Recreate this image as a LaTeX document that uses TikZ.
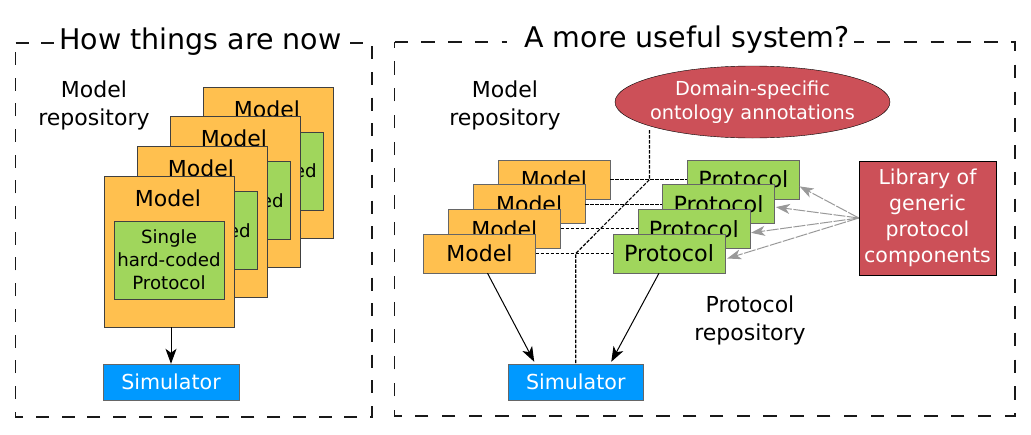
\documentclass[tikz,border=0pt]{standalone}
\usepackage{fontspec}
\setmainfont{DejaVu Sans}
\usetikzlibrary{shapes,arrows.meta,positioning}

\definecolor{modelorange}{HTML}{FFC04F}
\definecolor{protogreen}{HTML}{A0D65C}
\definecolor{libred}{HTML}{CC5058}
\definecolor{simblue}{HTML}{0099FF}

\tikzset{
    frame/.style={draw=black!90, line width=1.2pt},
    mask/.style={fill=white, inner sep=0pt, minimum height=6pt},
    title/.style={inner sep=0pt, font=\fontsize{28.5}{34}\selectfont},
    label/.style={align=center, font=\fontsize{22}{28}\selectfont},
    modelbig/.style={draw=black!75, line width=0.8pt, fill=modelorange, minimum width=130pt, minimum height=151pt, inner sep=0pt},
    inner/.style={draw=black!75, line width=0.8pt, fill=protogreen, minimum width=110pt, minimum height=78pt, inner sep=0pt},
    innertext/.style={align=center, inner sep=0pt, font=\fontsize{18.2}{23}\selectfont},
    model/.style={draw=black!60, fill=modelorange, minimum width=112pt, minimum height=39pt, inner sep=0pt, font=\fontsize{22}{28}\selectfont},
    protocol/.style={draw=black!60, fill=protogreen, minimum width=112pt, minimum height=39pt, inner sep=0pt, font=\fontsize{22.3}{28}\selectfont},
    sim/.style={draw=black!60, fill=simblue, text=white, minimum width=135.5pt, minimum height=36pt, inner sep=0pt, font=\fontsize{20.6}{26}\selectfont},
    link/.style={draw=black, line width=1.1pt, dash pattern=on 3.5pt off 1.5pt},
    feed/.style={draw=black!40, line width=1pt, dash pattern=on 12pt off 1.5pt, -{Stealth[length=14pt,width=10pt,inset=4pt]}},
    flow/.style={draw=black, line width=1pt, -{Stealth[length=15pt,width=11pt,inset=4pt]}}
}

\begin{document}
\begin{tikzpicture}[x=1pt, y=-1pt]
    \useasboundingbox (0,0) rectangle (1031,434);

    % Frames
    \draw[frame, dash pattern=on 13pt off 12.7pt] (15.5,43) -- (372,43) -- (372,417) -- (15.5,417) -- cycle;
    \draw[frame, dash pattern=on 13.4pt off 13.4pt] (394.5,42) -- (1015,42) -- (1015,416) -- (394.5,416) -- cycle;
    \node[mask, minimum width=295.7pt] at (202.15,43) (nowmask) {};
    \node[mask, minimum width=347.3pt] at (680.35,42) (usefulmask) {};
    \node[title] at (200.5,42) (nowtitle) {How things are now};
    \node[title] at (687,40) (usefultitle) {A more useful system?};

    % Left side: models with their own protocol
    \node[label] at (94,105.5) (leftrepo) {Model\\repository};
    \foreach \i/\off in {3/3,2/3,1/3,0/0} {
        \node[modelbig] at ({169+33*\i},{251.5-29.7*\i}) (big\i) {};
        \node[inner] at ({169+33*\i},{260-29.7*\i}) (single\i) {};
        \node[innertext] at ({169+33*\i-\off},{260-29.7*\i}) (singletext\i) {Single\\hard-coded\\Protocol};
        \node[font=\fontsize{22}{28}\selectfont] at ({168+33*\i},{198-29.7*\i}) (bigtext\i) {Model};
    }
    \node[sim] at (171,382) (leftsim) {Simulator};
    \draw[flow] (big0.south -| leftsim.north) -- (leftsim.north);

    % Right side: labels and annotation sources
    \node[label] at (505,105.5) (rightrepo) {Model\\repository};
    \node[label] at (750,320) (protorepo) {Protocol\\repository};
    \node[draw=black, ellipse, fill=libred, text=white, align=center, minimum width=275pt, minimum height=72pt, inner xsep=-5.5pt, inner ysep=0pt, font=\fontsize{19.3}{24}\selectfont] at (752.5,102) (onto) {Domain-specific\\ontology annotations};
    \node[draw=black, fill=libred, text=white, align=center, minimum width=137pt, minimum height=114pt, inner sep=0pt, font=\fontsize{20.5}{26}\selectfont] at (927.5,218) (lib) {Library of\\generic\\protocol\\components};

    % Stacks of models and protocols
    \foreach \i in {3,2,1,0} {
        \node[model] at ({479.5+24.8*\i},{253.5-24.7*\i}) (model\i) {Model};
        \node[protocol] at ({669+24.8*\i},{253.5-24.7*\i}) (prot\i) {Protocol};
        \draw[link] (model\i) -- (prot\i);
    }
    \node[sim] at (575.75,382) (rightsim) {Simulator};

    % Annotation links
    \coordinate (jtop) at (649.5,179.6);
    \coordinate (jlow) at (575.75,253.5);
    \coordinate (ontofoot) at (649.5,130);
    \draw[link] (ontofoot) -- (jtop) -- (jlow) -- (rightsim.north);

    % Library arrows
    \draw[feed] (lib.west) -- ([yshift=-7pt]prot3.east);
    \draw[feed] (lib.west) -- ([xshift=1pt,yshift=-3pt]prot2.east);
    \draw[feed] (lib.west) -- ([xshift=1pt,yshift=-4pt]prot1.east);
    \draw[feed] (lib.west) -- ([xshift=2pt,yshift=-5pt]prot0.east);

    % Arrows to simulator
    \draw[flow] ([xshift=8pt]model0.south) -- ([xshift=-41.5pt,yshift=2pt]rightsim.north);
    \draw[flow] ([xshift=-10pt]prot0.south) -- ([xshift=35.5pt,yshift=2pt]rightsim.north);
\end{tikzpicture}
\end{document}
